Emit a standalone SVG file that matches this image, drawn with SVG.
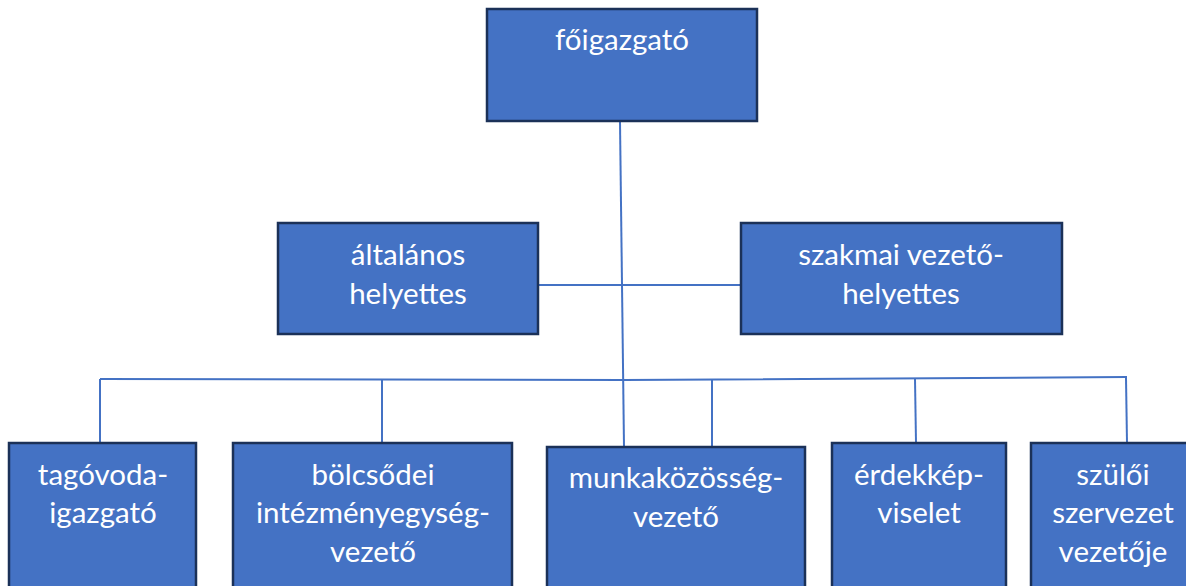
<svg xmlns="http://www.w3.org/2000/svg" width="1186" height="586" viewBox="0 0 1186 586">
<style>
.box{fill:#4472C4;stroke:#1B3158;stroke-width:2.5}
.lbl{fill:#FFFFFF;font-family:Lato,"Open Sans","Liberation Sans",sans-serif;font-size:29.5px;text-anchor:middle}
.conn{fill:none;stroke:#4472C4;stroke-width:2}
</style>
<rect width="1186" height="586" fill="#FFFFFF"/>
<g id="connectors">
<line class="conn" x1="620" y1="122" x2="624" y2="447"/>
<line class="conn" x1="538" y1="285" x2="741" y2="285"/>
<polyline class="conn" points="100,379 624,380 1127,377"/>
<line class="conn" x1="100" y1="379" x2="100" y2="443"/>
<line class="conn" x1="382" y1="379" x2="382" y2="443"/>
<line class="conn" x1="712" y1="380" x2="712" y2="447"/>
<line class="conn" x1="915" y1="379" x2="916" y2="443"/>
<line class="conn" x1="1126" y1="378" x2="1127" y2="443"/>
</g>
<g id="foigazgato">
<rect class="box" x="487" y="9" width="270" height="112"/>
<text class="lbl" x="622" y="50">főigazgató</text>
</g>
<g id="altalanos-helyettes">
<rect class="box" x="278" y="223" width="260" height="111"/>
<text class="lbl" x="408" y="265">általános</text>
<text class="lbl" x="408" y="304">helyettes</text>
</g>
<g id="szakmai-vezeto-helyettes">
<rect class="box" x="741" y="223" width="321" height="111"/>
<text class="lbl" x="901" y="265">szakmai vezető-</text>
<text class="lbl" x="901" y="304">helyettes</text>
</g>
<g id="tagovoda-igazgato">
<rect class="box" x="9" y="443" width="187" height="170"/>
<text class="lbl" x="103" y="485">tagóvoda-</text>
<text class="lbl" x="103" y="523">igazgató</text>
</g>
<g id="bolcsodei-intezmenyegyseg-vezeto">
<rect class="box" x="233" y="443" width="279" height="170"/>
<text class="lbl" x="373" y="485">bölcsődei</text>
<text class="lbl" x="373" y="523">intézményegység-</text>
<text class="lbl" x="373" y="562">vezető</text>
</g>
<g id="munkakozosseg-vezeto">
<rect class="box" x="547" y="447" width="258" height="170"/>
<text class="lbl" x="676" y="488">munkaközösség-</text>
<text class="lbl" x="676" y="527">vezető</text>
</g>
<g id="erdekkepviselet">
<rect class="box" x="832" y="443" width="174" height="170"/>
<text class="lbl" x="919" y="485">érdekkép-</text>
<text class="lbl" x="919" y="523">viselet</text>
</g>
<g id="szuloi-szervezet-vezetoje">
<rect class="box" x="1031" y="443" width="164" height="170"/>
<text class="lbl" x="1113" y="485">szülői</text>
<text class="lbl" x="1113" y="523">szervezet</text>
<text class="lbl" x="1113" y="562">vezetője</text>
</g>
</svg>
